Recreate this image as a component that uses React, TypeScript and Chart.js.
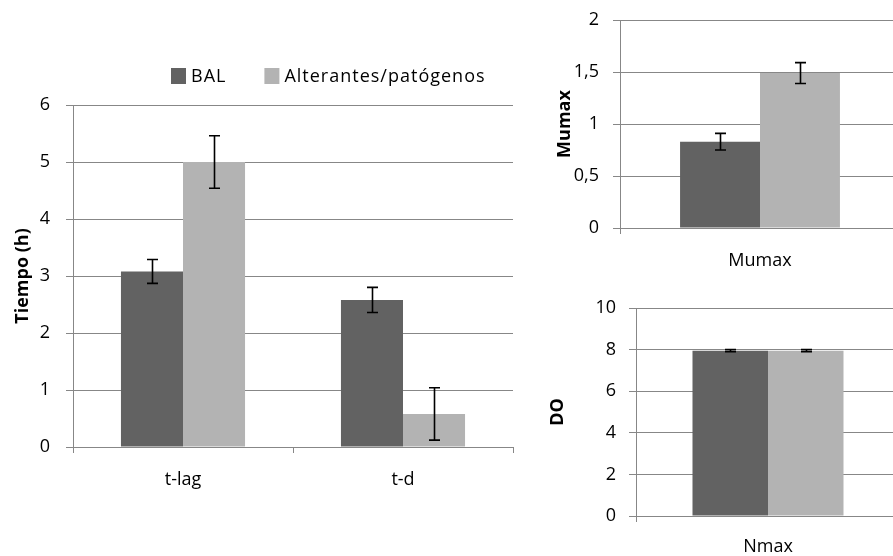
import React, { useEffect, useRef } from 'react';
import { Chart, registerables } from 'chart.js';

Chart.register(...registerables);

// Series shared by the three panels
const seriesLabels = ['BAL', 'Alterantes/patógenos'];
const seriesColors = ['#626262', '#b3b3b3'];

// Lag and doubling times (h)
const timeCategories = ['t-lag', 't-d'];
const timeBal = [3.08, 2.58];
const timeAlt = [5.0, 0.58];
const timeBalErr = [0.21, 0.22];
const timeAltErr = [0.46, 0.46];

// Maximum specific growth rate
const muCategories = ['Mumax'];
const muBal = [0.83];
const muAlt = [1.49];
const muBalErr = [0.08];
const muAltErr = [0.1];

// Maximum optical density
const nCategories = ['Nmax'];
const nBal = [7.95];
const nAlt = [7.95];
const nBalErr = [0.05];
const nAltErr = [0.05];

const GRID = '#878787';
const FONT = "'Open Sans'";
const FONT_SIZE = 18;

// Black I-shaped error bars centred on each bar
const errorBars = {
  id: 'errorBars',
  afterDatasetsDraw(chart: any, _args: any, opts: any) {
    const errs: number[][] = opts.errors || [];
    const yScale = chart.scales.y;
    const { ctx } = chart;
    ctx.save();
    ctx.strokeStyle = '#000';
    ctx.lineWidth = 1.6;
    chart.data.datasets.forEach((ds: any, i: number) => {
      const meta = chart.getDatasetMeta(i);
      const e = errs[i];
      if (!e) return;
      meta.data.forEach((bar: any, j: number) => {
        const v = ds.data[j];
        const top = yScale.getPixelForValue(v + e[j]);
        const bot = yScale.getPixelForValue(v - e[j]);
        const x = Math.round(bar.x) + 0.5;
        const half = 5.5;
        ctx.beginPath();
        ctx.moveTo(x, top);
        ctx.lineTo(x, bot);
        ctx.moveTo(x - half, top);
        ctx.lineTo(x + half, top);
        ctx.moveTo(x - half, bot);
        ctx.lineTo(x + half, bot);
        ctx.stroke();
      });
    });
    ctx.restore();
  },
};

// Row of square swatches with series names
const swatchLegend = {
  id: 'swatchLegend',
  afterDraw(chart: any, _args: any, opts: any) {
    if (!opts.show) return;
    const { ctx } = chart;
    ctx.save();
    ctx.font = `${FONT_SIZE}px ${FONT}`;
    (ctx as any).letterSpacing = '1px';
    ctx.textBaseline = 'middle';
    ctx.textAlign = 'left';
    let x = opts.x;
    const y = opts.y;
    chart.data.datasets.forEach((ds: any) => {
      ctx.fillStyle = ds.backgroundColor;
      ctx.fillRect(x, y - 8, 15, 16);
      ctx.fillStyle = '#000';
      ctx.fillText(ds.label, x + 20, y + 1);
      x += 20 + ctx.measureText(ds.label).width + 38;
    });
    ctx.restore();
  },
};

type PanelProps = {
  left: number;
  top: number;
  width: number;
  height: number;
  categories: string[];
  values: number[][];
  errors: number[][];
  yMax: number;
  step: number;
  yTitle: string;
  axisWidth: number;
  padTop: number;
  padRight: number;
  xHeight: number;
  xPad: number;
  titlePad: number;
  tickPad: number;
  barFrac: number;
  legend?: { x: number; y: number };
};

function BarPanel(p: PanelProps) {
  const ref = useRef<HTMLCanvasElement>(null);
  useEffect(() => {
    if (!ref.current) return;
    const chart = new Chart(ref.current, {
      type: 'bar',
      data: {
        labels: p.categories,
        datasets: p.values.map((vals, i) => ({
          label: seriesLabels[i],
          data: vals,
          backgroundColor: seriesColors[i],
          borderWidth: 0,
          categoryPercentage: p.barFrac,
          barPercentage: 1,
        })),
      },
      options: {
        responsive: false,
        animation: false,
        devicePixelRatio: 1,
        layout: { padding: { top: p.padTop, right: p.padRight, left: 0, bottom: 0 } },
        plugins: {
          legend: { display: false },
          tooltip: { enabled: false },
          errorBars: { errors: p.errors },
          swatchLegend: p.legend ? { show: true, x: p.legend.x, y: p.legend.y } : { show: false },
        } as any,
        scales: {
          x: {
            grid: { drawOnChartArea: false, tickLength: 6, color: GRID, offset: true },
            border: { color: GRID, width: 1 },
            ticks: { padding: p.xPad, color: '#000', font: { family: FONT, size: FONT_SIZE } },
            afterFit: (s: any) => {
              s.height = p.xHeight;
            },
          },
          y: {
            min: 0,
            max: p.yMax,
            grid: { color: GRID, tickLength: 7, lineWidth: 1 },
            border: { color: GRID, width: 1 },
            ticks: {
              stepSize: p.step,
              padding: p.tickPad,
              color: '#000',
              font: { family: FONT, size: FONT_SIZE },
              callback: (v: any) => String(v).replace('.', ','),
            },
            title: {
              display: true,
              text: p.yTitle,
              color: '#000',
              font: { family: FONT, size: FONT_SIZE, weight: 'bold' },
              padding: { top: p.titlePad, bottom: 0 },
            },
            afterFit: (s: any) => {
              // the layout padding already leaves room for the end labels
              s.width = p.axisWidth;
              s.paddingTop = 0;
              s.paddingBottom = 0;
            },
          },
        },
      },
      plugins: [errorBars, swatchLegend],
    });
    return () => chart.destroy();
  }, []);
  return (
    <canvas
      ref={ref}
      width={p.width}
      height={p.height}
      style={{ position: 'absolute', left: p.left, top: p.top, width: p.width, height: p.height }}
    />
  );
}

export default function App() {
  return (
    <div
      style={{
        position: 'fixed',
        left: 0,
        top: 0,
        width: 893,
        height: 556,
        overflow: 'hidden',
        background: '#fff',
      }}
    >
      <BarPanel
        left={0}
        top={0}
        width={540}
        height={556}
        categories={timeCategories}
        values={[timeBal, timeAlt]}
        errors={[timeBalErr, timeAltErr]}
        yMax={6}
        step={1}
        yTitle="Tiempo (h)"
        axisWidth={73}
        padTop={105}
        padRight={27}
        xHeight={109}
        xPad={16}
        titlePad={12}
        tickPad={16}
        barFrac={0.564}
        legend={{ x: 171, y: 76 }}
      />
      <BarPanel
        left={540}
        top={0}
        width={360}
        height={280}
        categories={muCategories}
        values={[muBal, muAlt]}
        errors={[muBalErr, muAltErr]}
        yMax={2}
        step={0.5}
        yTitle="Mumax"
        axisWidth={80}
        padTop={20}
        padRight={0}
        xHeight={52}
        xPad={16}
        titlePad={14}
        tickPad={14}
        barFrac={0.571}
      />
      <BarPanel
        left={540}
        top={280}
        width={360}
        height={276}
        categories={nCategories}
        values={[nBal, nAlt]}
        errors={[nBalErr, nAltErr]}
        yMax={10}
        step={2}
        yTitle="DO"
        axisWidth={96}
        padTop={28}
        padRight={0}
        xHeight={40}
        xPad={14}
        titlePad={7}
        tickPad={13}
        barFrac={0.572}
      />
    </div>
  );
}
